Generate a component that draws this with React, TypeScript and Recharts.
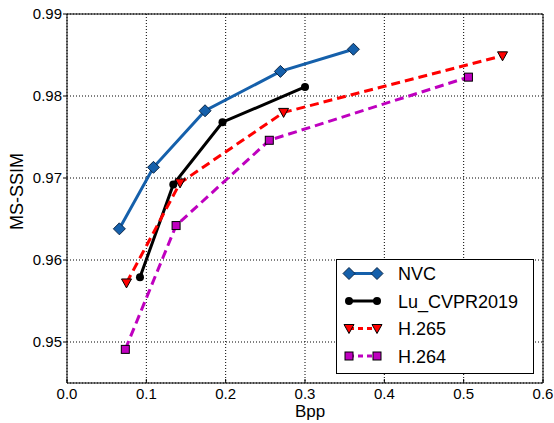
import React from 'react';
import {
  LineChart,
  Line,
  XAxis,
  YAxis,
  CartesianGrid,
  Legend,
} from 'recharts';

// Rate-distortion points
const nvcBpp = [0.066, 0.109, 0.174, 0.269, 0.361];
const nvcSsim = [0.9638, 0.9713, 0.9782, 0.983, 0.9857];

const luBpp = [0.092, 0.134, 0.196, 0.3];
const luSsim = [0.9579, 0.9692, 0.9768, 0.9811];

const h265Bpp = [0.075, 0.1425, 0.273, 0.549];
const h265Ssim = [0.9572, 0.9694, 0.978, 0.9849];

const h264Bpp = [0.0735, 0.1375, 0.255, 0.506];
const h264Ssim = [0.9491, 0.9642, 0.9746, 0.9823];

const xTicks = [0, 0.1, 0.2, 0.3, 0.4, 0.5, 0.6];
const yTicks = [0.95, 0.96, 0.97, 0.98, 0.99];

const zip = (xs: number[], ys: number[]) => xs.map((x, i) => ({ x, y: ys[i] }));

const series = [
  { name: 'NVC', data: zip(nvcBpp, nvcSsim), color: '#1560ab', dash: undefined, marker: 'diamond' },
  { name: 'Lu_CVPR2019', data: zip(luBpp, luSsim), color: '#000000', dash: undefined, marker: 'circle' },
  { name: 'H.265', data: zip(h265Bpp, h265Ssim), color: '#ff0000', dash: '9 5', marker: 'triangle' },
  { name: 'H.264', data: zip(h264Bpp, h264Ssim), color: '#bf00bf', dash: '9 5', marker: 'square' },
];

const FONT = '"Liberation Sans", Arial, Helvetica, sans-serif';

const Marker = ({ type, cx, cy, color }: { type: string; cx: number; cy: number; color: string }) => {
  if (type === 'diamond') {
    return (
      <polygon
        points={`${cx},${cy - 6} ${cx + 6},${cy} ${cx},${cy + 6} ${cx - 6},${cy}`}
        fill={color}
        stroke="#0b2748"
        strokeWidth={1}
      />
    );
  }
  if (type === 'circle') {
    return <circle cx={cx} cy={cy} r={4} fill="#000" />;
  }
  if (type === 'triangle') {
    return (
      <polygon
        points={`${cx - 5},${cy - 4} ${cx + 5},${cy - 4} ${cx},${cy + 5}`}
        fill={color}
        stroke="#000"
        strokeWidth={1}
      />
    );
  }
  return <rect x={cx - 4} y={cy - 4} width={8} height={8} fill={color} stroke="#000" strokeWidth={1} />;
};

const LegendBox = () => (
  <svg width={198} height={115} style={{ display: 'block' }}>
    <rect x={0.5} y={0.5} width={197} height={114} fill="#fff" stroke="#000" />
    {series.map((s, i) => {
      const cy = 14.5 + i * 27.5;
      return (
        <g key={s.name}>
          <line x1={13} y1={cy} x2={41} y2={cy} stroke={s.color} strokeWidth={3} strokeDasharray={s.dash ? '5 4' : undefined} />
          <Marker type={s.marker} cx={13} cy={cy} color={s.color} />
          <Marker type={s.marker} cx={41} cy={cy} color={s.color} />
          <text x={62} y={cy + 6.5} fontSize={18} fontFamily={FONT} fill="#000">
            {s.name}
          </text>
        </g>
      );
    })}
  </svg>
);

const XLabel = (props: any) => {
  const vb = props.viewBox;
  return (
    <text x={vb.x + vb.width / 2 + 5} y={417} textAnchor="middle" fontSize={17} fontFamily={FONT} fill="#000">
      Bpp
    </text>
  );
};

const YLabel = (props: any) => {
  const vb = props.viewBox;
  const cy = vb.y + vb.height / 2 - 7;
  return (
    <text
      x={23}
      y={cy}
      transform={`rotate(-90, 23, ${cy})`}
      textAnchor="middle"
      fontSize={18}
      fontFamily={FONT}
      fill="#000"
    >
      MS-SSIM
    </text>
  );
};

const tickStyle = { fill: '#000', fontSize: 15, fontFamily: FONT };

export default function App() {
  return (
    <div style={{ position: 'absolute', left: 0, top: 0, width: 554, height: 423, background: '#fff' }}>
      <LineChart
        width={554}
        height={423}
        margin={{ top: 4, right: 1, left: 17, bottom: 0 }}
        style={{ fontFamily: FONT }}
      >
        <CartesianGrid stroke="#000" strokeDasharray="1 2" />
        <XAxis
          xAxisId={0}
          type="number"
          dataKey="x"
          domain={[0, 0.6]}
          ticks={xTicks}
          allowDataOverflow
          height={40}
          tickFormatter={(v: number) => v.toFixed(1)}
          tick={tickStyle}
          stroke="#000"
          tickSize={-4}
          tickMargin={9}
          label={<XLabel />}
        />
        <XAxis
          xAxisId="top"
          orientation="top"
          type="number"
          domain={[0, 0.6]}
          ticks={xTicks}
          allowDataOverflow
          height={10}
          tick={false}
          stroke="#000"
          tickSize={-4}
        />
        <YAxis
          yAxisId={0}
          type="number"
          domain={[0.945, 0.99]}
          ticks={yTicks}
          allowDataOverflow
          width={50}
          tickFormatter={(v: number) => v.toFixed(2)}
          tick={tickStyle}
          stroke="#000"
          tickSize={4}
          tickMargin={1}
          label={<YLabel />}
        />
        <YAxis
          yAxisId="right"
          orientation="right"
          type="number"
          domain={[0.945, 0.99]}
          ticks={yTicks}
          allowDataOverflow
          width={10}
          tick={false}
          stroke="#000"
          tickSize={-4}
        />
        {series.map((s) => (
          <Line
            key={s.name}
            data={s.data}
            dataKey="y"
            name={s.name}
            type="linear"
            stroke={s.color}
            strokeWidth={3}
            strokeDasharray={s.dash}
            isAnimationActive={false}
            dot={(p: any) => <Marker key={`${s.name}-${p.index}`} type={s.marker} cx={p.cx} cy={p.cy} color={s.color} />}
            activeDot={false}
          />
        ))}
        <Legend
          layout="vertical"
          align="center"
          verticalAlign="middle"
          content={() => <LegendBox />}
          wrapperStyle={{ position: 'absolute', left: 336, top: 259, width: 198, height: 115, margin: 0, padding: 0 }}
        />
      </LineChart>
    </div>
  );
}
